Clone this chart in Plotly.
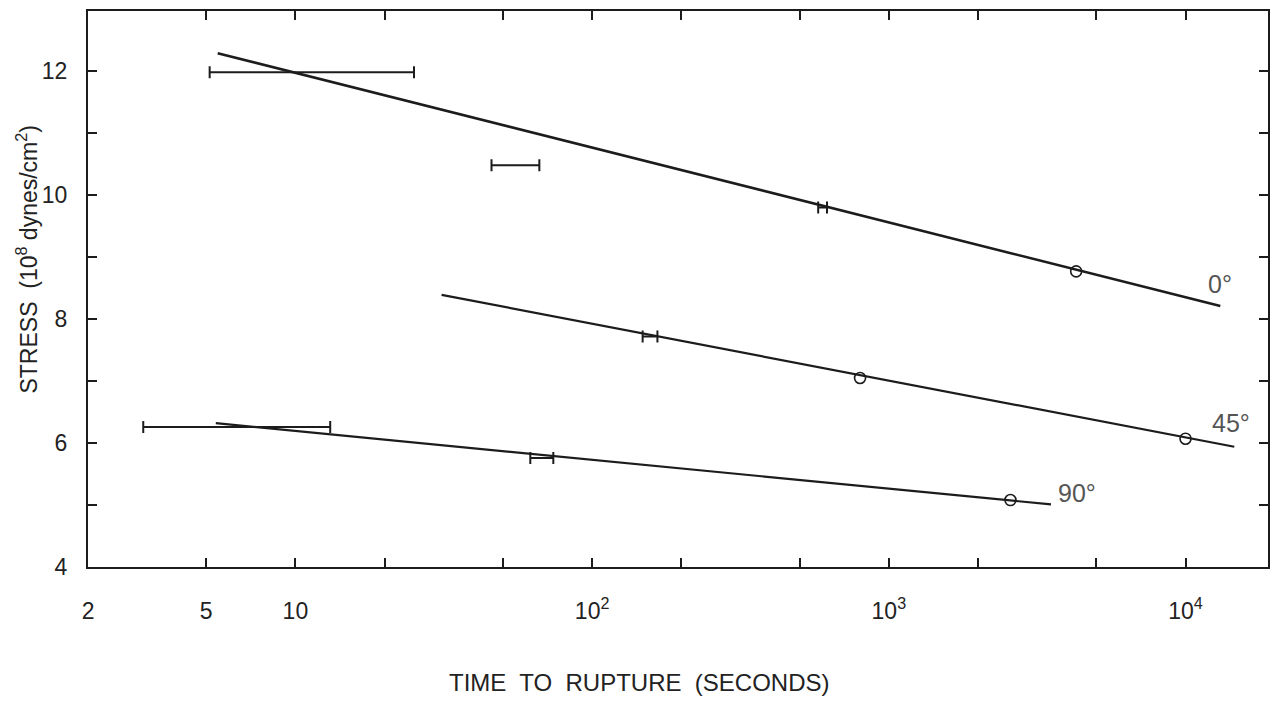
import math
import plotly.graph_objects as go

# ---- data ----
# fitted lines (end points): time to rupture [s], stress [1e8 dynes/cm^2]
fit_0_time = [5.47, 13100]
fit_0_stress = [12.29, 8.21]
fit_45_time = [31.1, 14600]
fit_45_stress = [8.39, 5.94]
fit_90_time = [5.39, 3520]
fit_90_stress = [6.32, 5.01]

# open-circle data points
circle_time = [4280, 800, 10000, 2570]
circle_stress = [8.77, 7.05, 6.07, 5.08]

# horizontal range bars (low / high time at a stress level)
bar_low = [5.14, 45.8, 578, 148, 3.07, 61.9]
bar_high = [25.1, 66.4, 619, 166, 13.1, 74.0]
bar_stress = [11.98, 10.48, 9.80, 7.72, 6.26, 5.76]

# curve labels
label_text = ["0°", "45°", "90°"]
label_time = [13100, 14260, 4300]
label_stress = [8.57, 6.32, 5.19]

# axis ticks
x_tickvals = [2, 5, 10, 20, 50, 100, 200, 500, 1000, 2000, 5000, 10000]
x_ticktext = ["2", "5", "10", "", "", "10<sup>2</sup>", "", "", "10<sup>3</sup>", "", "", "10<sup>4</sup>"]
y_tickvals = [4, 5, 6, 7, 8, 9, 10, 11, 12]
y_ticktext = ["4", "", "6", "", "8", "", "10", "", "12"]

INK = "#1c1c1c"
FONT = "Liberation Sans"

fig = go.Figure()

for tx, sy, w in [(fit_0_time, fit_0_stress, 2.6), (fit_45_time, fit_45_stress, 2.2), (fit_90_time, fit_90_stress, 2.2)]:
    fig.add_trace(go.Scatter(x=tx, y=sy, mode="lines",
                             line=dict(color=INK, width=w),
                             showlegend=False, hoverinfo="skip"))

bar_center = [math.sqrt(lo * hi) for lo, hi in zip(bar_low, bar_high)]
fig.add_trace(go.Scatter(
    x=bar_center, y=bar_stress, mode="markers",
    marker=dict(size=1, color="rgba(0,0,0,0)"),
    error_x=dict(type="data", symmetric=False,
                 array=[hi - c for hi, c in zip(bar_high, bar_center)],
                 arrayminus=[c - lo for lo, c in zip(bar_low, bar_center)],
                 color=INK, thickness=2, width=6),
    showlegend=False, hoverinfo="skip"))

fig.add_trace(go.Scatter(
    x=circle_time, y=circle_stress, mode="markers",
    marker=dict(symbol="circle-open", size=11, color=INK, line=dict(width=1.6)),
    showlegend=False, hoverinfo="skip"))

for t, tx, sy in zip(label_text, label_time, label_stress):
    fig.add_annotation(x=math.log10(tx), y=sy, xref="x", yref="y", text=t,
                       showarrow=False, font=dict(family=FONT, size=25, color="#555"))

axis_common = dict(showline=True, linecolor=INK, linewidth=2, mirror="ticks",
                   ticks="inside", ticklen=9, tickwidth=2, tickcolor=INK,
                   showgrid=False, zeroline=False,
                   tickfont=dict(family=FONT, size=23, color="#222"))

fig.update_xaxes(type="log", range=[math.log10(1.9995), 4.278],
                 tickmode="array", tickvals=x_tickvals, ticktext=x_ticktext,
                 ticklabelstandoff=22, **axis_common)
fig.update_yaxes(range=[4, 12.97], tickmode="array", tickvals=y_tickvals, ticktext=y_ticktext,
                 ticklabelstandoff=14, **axis_common)

# axis titles as annotations (placed as in the reference)
fig.add_annotation(text="TIME  TO  RUPTURE  (SECONDS)", xref="paper", yref="paper",
                   x=0.467, y=0, yanchor="middle", xanchor="center", yshift=-115,
                   showarrow=False, font=dict(family=FONT, size=24, color="#222"))
fig.add_annotation(text="STRESS  (10<sup>8</sup> dynes/cm<sup>2</sup>)", xref="paper", yref="paper",
                   x=0, xshift=-61, y=0.553, textangle=-90, xanchor="center", yanchor="middle",
                   showarrow=False, font=dict(family=FONT, size=23, color="#222"))

fig.update_layout(width=1279, height=702,
                  margin=dict(l=88, r=9, t=10, b=135),
                  paper_bgcolor="white", plot_bgcolor="white")

fig.write_html("out.html")
